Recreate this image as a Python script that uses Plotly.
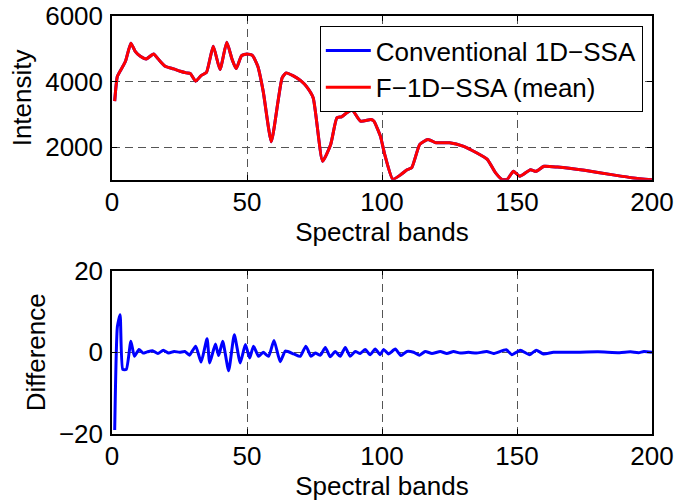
import plotly.graph_objects as go

# Mean spectrum (F-1D-SSA) sampled along the spectral bands
bands_top = [1, 2, 3.7, 5, 7, 8.6, 10.5, 12.7, 15.4, 17.3, 19.7, 22.8, 25.3, 27.5, 29,
             31, 33, 35, 37.5, 40, 42.5, 44.5, 46, 48, 50, 52, 54, 56, 59, 61.5, 63,
             64.5, 67, 70, 72, 74.5, 78, 81, 83.3, 85, 87, 89, 92, 96, 97, 99.4, 101,
             104, 107, 109.3, 111, 114, 117, 120, 125, 130, 135, 139, 142, 144.5,
             146.3, 148.7, 151, 155, 157, 160, 165, 175, 185, 193, 200]
intensity_mean = [3400, 4160, 4417, 4620, 5170, 4920, 4770, 4690, 4843, 4670, 4466, 4386,
                  4313, 4264, 4243, 4010, 4183, 4283, 5075, 4365, 5196, 4670, 4396, 4791,
                  4843, 4800, 4466, 3700, 2160, 3400, 4112, 4264, 4180, 4020, 3850, 3504,
                  1570, 2082, 2895, 2925, 3047, 3127, 2792, 2843, 2792, 2335, 1780, 1020,
                  1160, 1310, 1370, 2082, 2234, 2133, 2133, 2031, 1828, 1625, 1219, 1010,
                  1010, 1260, 1110, 1310, 1260, 1413, 1390, 1290, 1160, 1060, 1000]
# Conventional 1D-SSA spectrum coincides with the mean at this scale
intensity_conv = list(intensity_mean)

# Difference between the two reconstructions
bands_diff = [1, 2, 3, 4, 5.3, 7, 8.3, 10, 11.5, 13, 15, 17, 19, 21, 23, 25, 27, 28.7,
              31, 33, 35.2, 36.2, 38.3, 39.5, 41, 43.2, 45.3, 47.5, 49.4, 51, 52.4, 54.3,
              56, 58, 60, 62.3, 64.2, 67.3, 69.7, 71.8, 73.7, 75.3, 77.2, 79, 80.8, 82.7,
              84.5, 86.4, 88.2, 90.1, 91.9, 93.8, 95.6, 97.5, 99.3, 100.6, 102.4, 104.9,
              107, 109.2, 111.7, 113.9, 116, 118.5, 121.6, 124, 126.5, 129, 132, 135,
              138.8, 141.3, 146, 148.1, 151.2, 154.7, 157.1, 159.8, 163.5, 170, 180, 188,
              192, 195, 197, 200]
difference = [-19, 6.3, 9.2, -4.2, -4.2, 2.7, -1, 0.7, -0.2, 0.1, 0.4, -0.3, 0.5, -0.2,
              0.2, 0, 0.2, -0.7, 1.5, -2.4, 3.3, -2.6, 2, -0.8, 2.7, -4.5, 4.3, -2.6, 1.9,
              -1.4, 1.5, -1, 0, -1, 2.9, -2.3, 0.3, -0.4, -1, 1.5, -1, -0.2, -0.7, 1.2,
              -1.1, 0.2, -1, 1.2, -1, 0.2, -0.3, 0.7, -0.6, 0.8, -0.6, 0.7, -0.4, 0.8,
              -0.8, 0.2, 0, -0.7, 0.2, -0.3, 0.2, -0.3, 0.2, -0.2, 0, -0.2, 0.2, -0.3,
              0.6, -0.6, 0.5, -0.6, 0.5, -0.4, 0, 0, 0.1, -0.1, 0.1, -0.1, 0.2, 0]

x_ticks = [0, 50, 100, 150, 200]
top_ticks = [2000, 4000, 6000]
bottom_ticks = [-20, 0, 20]

FONT = "Liberation Sans, Arial, Helvetica, sans-serif"
FS = 26
BLUE = "#0000ff"
RED = "#ff0000"

fig = go.Figure()
fig.add_trace(go.Scatter(x=bands_top, y=intensity_conv, mode="lines",
                         name="Conventional 1D\u2212SSA",
                         line=dict(color=BLUE, width=3, shape="spline", smoothing=0.5),
                         xaxis="x", yaxis="y"))
fig.add_trace(go.Scatter(x=bands_top, y=intensity_mean, mode="lines",
                         name="F\u22121D\u2212SSA (mean)",
                         line=dict(color=RED, width=3, shape="spline", smoothing=0.5),
                         xaxis="x", yaxis="y"))
fig.add_trace(go.Scatter(x=bands_diff, y=difference, mode="lines", showlegend=False,
                         line=dict(color=BLUE, width=3, shape="spline", smoothing=0.5),
                         xaxis="x2", yaxis="y2"))

axis_common = dict(
    automargin=False,
    showline=True, linecolor="black", linewidth=1.5, mirror="ticks",
    ticks="inside", ticklen=5, tickwidth=1, tickcolor="black",
    showgrid=True, gridcolor="#555555", gridwidth=1, griddash="8px,5px",
    zeroline=False, tickfont=dict(size=FS, color="black", family=FONT),
)

fig.update_layout(
    template="none",
    width=676, height=504,
    margin=dict(l=112, r=24, t=16, b=70, autoexpand=False),
    paper_bgcolor="white", plot_bgcolor="white",
    font=dict(family=FONT, color="black", size=FS),
    xaxis=dict(domain=[0, 1], range=[0, 200], tickvals=x_ticks, anchor="y",
               ticklabelstandoff=-2,
               title=dict(text="Spectral bands", standoff=2, font=dict(size=FS)),
               **axis_common),
    yaxis=dict(domain=[0.608, 1], range=[1000, 6000], tickvals=top_ticks, anchor="x",
               ticklabelstandoff=2,
               title=dict(text="Intensity", standoff=6, font=dict(size=FS)),
               **axis_common),
    xaxis2=dict(domain=[0, 1], range=[0, 200], tickvals=x_ticks, anchor="y2",
                ticklabelstandoff=-2,
                title=dict(text="Spectral bands", standoff=2, font=dict(size=FS)),
                **axis_common),
    yaxis2=dict(domain=[0, 0.391], range=[-20, 20], tickvals=bottom_ticks, anchor="x2",
                ticklabelstandoff=2,
                title=dict(text="Difference", standoff=6, font=dict(size=FS)),
                **axis_common),
    legend=dict(x=0.983, y=0.976, xanchor="right", yanchor="top",
                bgcolor="white", bordercolor="black", borderwidth=1,
                font=dict(size=FS, color="black", family=FONT),
                itemwidth=45, tracegroupgap=0),
    showlegend=True,
)

fig.write_html("out.html")
